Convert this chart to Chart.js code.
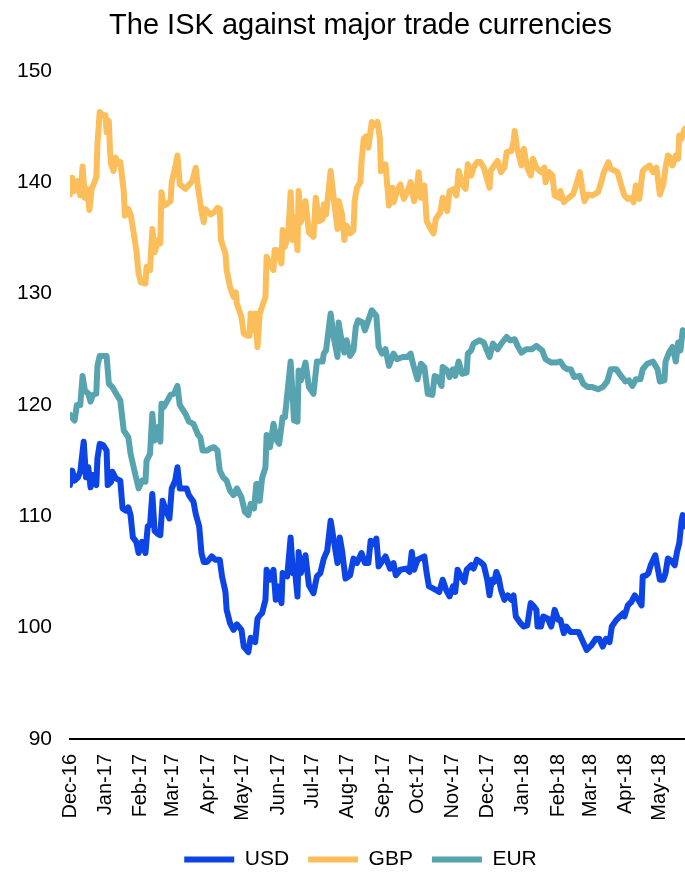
<!DOCTYPE html>
<html>
<head>
<meta charset="utf-8">
<title>The ISK against major trade currencies</title>
<script src="https://cdn.jsdelivr.net/npm/chart.js@4/dist/chart.umd.min.js"></script>
<style>
  html, body { margin: 0; padding: 0; background: #ffffff; }
  #wrap { width: 685px; height: 874px; }
</style>
</head>
<body>
<div id="wrap"><canvas id="chart" width="685" height="874"></canvas></div>
<script>
// Exchange rates: ISK per unit of foreign currency.
// x values are calendar days counted from 1 December 2016.
const startDate = Date.UTC(2016, 11, 1);

const monthLabels = ['Dec-16', 'Jan-17', 'Feb-17', 'Mar-17', 'Apr-17', 'May-17', 'Jun-17',
  'Jul-17', 'Aug-17', 'Sep-17', 'Oct-17', 'Nov-17', 'Dec-17', 'Jan-18', 'Feb-18',
  'Mar-18', 'Apr-18', 'May-18'];

const yTicks = [90, 100, 110, 120, 130, 140, 150];

const usdDay = [0,2,4,7,9,12,14,16,18,20,23,24,26,29,32,33,36,37,40,44,
  46,49,51,53,55,58,60,63,66,68,70,72,74,77,79,81,84,87,89,92,
  94,96,99,102,104,108,110,113,115,117,120,124,127,131,133,136,137,140,143,146,
  150,152,156,158,162,164,166,168,171,172,175,178,180,182,185,186,190,193,195,197,
  199,200,202,206,209,213,216,219,222,225,228,231,234,236,238,241,245,248,251,255,
  258,261,263,266,268,270,276,280,283,285,289,294,297,299,301,304,310,312,314,318,
  323,326,329,332,335,337,339,342,345,347,351,353,356,359,362,365,367,369,371,373,
  375,377,380,383,386,388,390,394,397,400,403,405,408,409,412,414,418,421,424,427,
  429,432,434,438,443,445,448,452,456,460,463,466,469,472,474,478,481,484,485,488,
  491,494,497,500,501,504,506,508,512,516,519,521,523,526,529,531,533,535,536,538];
const usdRate = [112.8,114.1,113.2,113.5,114.0,116.7,113.5,114.4,112.6,113.7,
  112.8,115.2,116.5,116.4,115.9,112.8,113.1,114.0,113.4,113.2,
  110.7,110.5,110.8,110.1,108.1,107.7,106.7,107.7,106.7,109.1,
  109.2,112.0,108.7,108.4,108.3,111.4,110.5,109.8,112.5,113.2,
  114.4,112.5,112.5,112.5,111.9,111.3,110.2,109.1,106.7,105.9,
  105.9,106.4,106.1,106.1,104.6,103.2,101.6,100.4,99.8,100.3,
  99.8,98.3,97.8,99.1,98.7,100.8,101.1,101.3,102.5,105.2,
  104.3,105.2,102.5,103.7,102.2,104.9,104.6,108.1,104.9,104.9,
  102.8,106.8,104.9,106.5,103.8,103.1,104.6,104.9,106.2,106.9,
  109.6,107.7,105.8,108.1,106.9,104.4,104.7,106.2,105.8,106.7,
  105.8,105.8,107.8,107.5,108.0,105.5,106.4,105.3,105.8,104.7,
  105.2,105.3,105.0,106.8,105.2,106.1,106.4,104.9,103.7,103.5,
  103.2,104.3,103.4,102.8,103.7,103.2,105.2,104.6,104.1,105.2,
  105.6,105.3,106.1,105.9,105.6,104.3,102.9,104.3,104.1,105.0,
  104.5,103.4,102.5,102.9,102.5,102.9,101.0,100.4,100.1,100.2,
  102.2,102.0,101.6,100.1,100.1,101.0,100.8,100.1,101.6,100.7,
  100.7,99.5,100.1,99.6,99.6,99.6,98.9,98.0,98.4,99.0,
  99.0,98.3,99.0,98.7,100.1,100.7,101.0,101.3,101.0,102.0,
  102.3,102.9,102.5,102.0,104.6,104.7,104.9,105.6,106.5,104.3,
  104.3,104.9,106.2,106.0,105.6,106.8,107.6,109.6,110.1,109.1];

const gbpDay = [0,2,4,7,9,11,13,15,17,19,23,24,26,29,31,32,34,35,36,38,
  40,42,44,47,48,51,53,55,58,60,62,66,67,70,72,74,77,79,80,82,
  84,88,89,92,94,96,101,107,110,112,115,117,118,123,126,129,131,132,136,137,
  140,143,145,146,150,152,155,157,158,161,162,164,166,168,171,172,175,178,179,181,
  185,186,188,191,193,195,197,199,200,202,206,209,213,215,218,221,222,224,228,231,
  234,235,238,240,242,245,248,249,251,254,255,257,259,261,264,266,269,271,272,276,
  279,282,283,287,289,292,295,298,301,303,305,307,310,312,315,318,320,324,326,330,
  332,336,338,340,343,346,348,351,353,356,359,362,367,368,371,374,377,380,382,386,
  388,389,391,395,397,400,403,405,408,412,415,416,419,422,424,428,429,432,435,440,
  443,446,448,450,453,457,462,465,467,471,473,479,482,485,488,491,493,495,498,501,
  504,507,510,513,516,519,521,523,526,527,530,532,533,535,537,538];
const gbpRate = [138.9,140.4,139.2,140.1,138.8,141.4,138.6,139.4,137.5,139.4,
  140.4,143.4,146.3,146.0,146.0,144.5,145.5,142.8,141.6,141.0,
  142.2,141.6,141.8,139.2,137.0,137.6,137.1,135.9,133.9,131.8,
  131.0,130.9,132.4,132.1,135.8,133.7,134.8,134.5,139.1,137.9,
  138.0,138.3,140.0,141.3,142.4,139.8,139.4,140.1,141.3,139.5,
  137.4,136.4,137.6,137.1,137.3,137.7,137.6,134.8,133.6,132.1,
  130.6,129.7,130.1,129.1,127.9,126.4,126.2,126.2,128.2,126.7,
  128.2,125.2,128.2,128.8,129.7,133.3,132.7,132.1,133.9,133.9,
  132.7,135.7,134.2,135.4,139.1,134.8,136.8,133.9,139.2,136.4,
  138.3,135.5,135.1,138.6,136.5,136.7,138.0,137.1,141.0,138.3,
  135.8,138.3,137.1,134.8,136.1,135.4,135.7,138.3,139.5,140.0,
  141.8,143.9,144.1,143.1,145.4,145.1,145.4,144.0,141.0,141.6,
  137.9,139.5,138.2,139.4,139.8,138.5,139.1,140.0,138.3,139.1,
  140.9,138.6,139.7,136.5,135.9,135.4,136.7,137.3,138.6,137.4,
  139.2,139.4,138.8,141.0,139.8,139.4,141.6,140.6,141.3,141.8,
  141.8,141.3,139.5,141.0,141.5,141.9,140.9,141.3,142.7,142.8,
  143.6,144.6,143.1,141.5,143.0,141.3,140.6,142.1,141.3,140.9,
  141.3,140.0,140.9,140.6,138.8,138.6,139.2,138.2,138.5,138.9,
  139.8,140.9,139.5,138.3,138.9,138.8,139.1,140.1,140.9,141.8,
  141.2,140.9,139.8,138.8,138.5,138.6,138.2,139.7,138.5,141.0,
  141.3,141.5,140.9,141.3,138.9,139.8,141.3,142.4,142.1,141.5,
  142.4,142.1,144.2,143.9,144.6,144.8];

const eurDay = [0,4,6,9,11,13,16,18,20,23,24,26,32,34,37,41,44,47,51,53,
  57,60,63,66,67,70,72,74,77,79,80,82,88,91,94,96,101,104,108,112,
  114,116,120,123,126,129,131,134,137,140,143,146,150,153,156,158,161,163,165,166,
  168,171,172,175,178,181,183,186,188,193,196,199,200,202,206,209,213,216,221,222,
  224,228,231,234,235,238,240,242,245,248,250,252,256,258,261,264,268,270,273,276,
  279,283,286,291,295,298,300,304,307,310,313,317,319,321,325,326,330,332,335,337,
  340,343,347,348,351,353,358,362,367,370,374,378,382,385,389,392,395,399,404,408,
  413,416,421,425,429,432,435,438,441,446,449,453,457,462,466,470,473,478,482,486,
  489,492,495,499,501,505,510,514,516,520,521,524,527,530,532,534,536,538];
const eurRate = [119.1,118.6,120.0,120.0,122.6,121.3,121.0,120.3,120.9,121.0,
  123.5,124.4,124.4,121.9,121.6,120.9,120.4,117.7,117.1,115.6,
  113.8,112.5,113.2,113.1,115.0,115.6,119.2,116.8,118.0,116.7,
  120.1,119.8,120.9,121.0,121.7,120.0,119.2,118.5,118.3,117.3,
  117.1,115.9,115.9,116.1,116.2,115.9,114.1,113.5,113.2,112.3,
  111.9,112.5,111.7,110.4,110.1,111.1,110.7,112.9,112.9,111.4,
  113.4,114.4,117.3,116.2,118.3,116.8,116.5,118.9,118.9,123.9,
  118.6,118.5,123.1,122.2,123.8,121.6,121.0,123.9,123.9,124.6,
  124.9,128.2,125.9,124.3,127.4,125.5,124.7,125.8,124.4,124.9,
  127.0,127.6,127.4,126.7,127.6,128.5,128.0,125.2,124.6,125.0,
  123.5,124.6,124.1,124.3,124.3,124.6,123.7,122.3,123.7,123.4,
  121.0,120.9,122.6,122.5,121.7,123.4,123.1,122.5,123.2,122.6,
  123.9,122.8,122.9,124.6,124.9,125.5,125.8,125.6,124.3,125.5,
  125.0,125.6,126.1,125.8,125.9,125.2,124.7,125.0,125.0,125.3,
  124.9,124.1,123.8,123.8,123.9,123.4,123.2,123.2,122.5,122.6,
  121.9,121.6,121.6,121.4,121.6,122.1,123.2,123.2,122.6,122.1,
  122.2,121.7,122.3,122.3,123.2,123.7,123.9,123.2,122.1,122.2,
  123.9,124.7,125.2,123.9,125.6,124.9,126.7,126.5];

// Day offset of the first of each labelled month.
const monthStartDays = monthLabels.map((_, i) =>
  Math.round((Date.UTC(2016, 11 + i, 1) - startDate) / 86400000));

const toPoints = (days, rates) => days.map((d, i) => ({ x: d, y: rates[i] }));

const FONT = '"Liberation Sans", Arial, Helvetica, sans-serif';

const lineStyle = {
  borderWidth: 6,
  pointRadius: 0,
  pointHoverRadius: 0,
  tension: 0,
  fill: false,
  borderJoinStyle: 'round',
  borderCapStyle: 'round'
};

// The value axis sits inside the left layout padding; let its labels use that room.
const yLabelRoom = {
  id: 'yLabelRoom',
  afterLayout(chart) { chart.scales.y.left = 0; }
};

new Chart(document.getElementById('chart'), {
  type: 'line',
  plugins: [yLabelRoom],
  data: {
    datasets: [
      Object.assign({ label: 'USD', data: toPoints(usdDay, usdRate),
        borderColor: '#0C44E6', backgroundColor: '#0C44E6' }, lineStyle),
      Object.assign({ label: 'GBP', data: toPoints(gbpDay, gbpRate),
        borderColor: '#FBBE5A', backgroundColor: '#FBBE5A' }, lineStyle),
      Object.assign({ label: 'EUR', data: toPoints(eurDay, eurRate),
        borderColor: '#57A4B0', backgroundColor: '#57A4B0' }, lineStyle)
    ]
  },
  options: {
    responsive: false,
    animation: false,
    devicePixelRatio: 1,
    layout: { padding: { left: 36, right: 0, top: 0, bottom: -6 } },
    plugins: {
      title: {
        display: true,
        text: 'The ISK against major trade currencies',
        color: '#000000',
        font: { family: FONT, size: 29, weight: 'normal' },
        padding: { top: 9, bottom: 27 }
      },
      legend: {
        display: true,
        position: 'bottom',
        labels: {
          usePointStyle: true,
          pointStyle: 'line',
          pointStyleWidth: 50,
          padding: 19,
          color: '#000000',
          font: { family: FONT, size: 21 }
        }
      },
      tooltip: { enabled: false }
    },
    scales: {
      x: {
        type: 'linear',
        min: 0,
        max: usdDay[usdDay.length - 1],
        grid: { display: false, drawTicks: false },
        border: { display: true, color: '#000000', width: 2 },
        afterBuildTicks: (scale) => {
          scale.ticks = monthStartDays.map(v => ({ value: v }));
        },
        afterFit: (scale) => {
          scale.height = 91;
          scale.paddingLeft = 0;
          scale.paddingRight = 0;
        },
        ticks: {
          autoSkip: false,
          maxRotation: 90,
          minRotation: 90,
          padding: 15,
          color: '#000000',
          font: { family: FONT, size: 20 },
          callback: (value) => {
            const i = monthStartDays.indexOf(value);
            return i >= 0 ? monthLabels[i] : '';
          }
        }
      },
      y: {
        min: 90,
        max: 150,
        grid: { display: false, drawTicks: false },
        border: { display: false },
        afterBuildTicks: (scale) => {
          scale.ticks = yTicks.map(v => ({ value: v }));
        },
        afterFit: (scale) => { scale.width = 34; },
        ticks: {
          padding: 18,
          color: '#000000',
          font: { family: FONT, size: 21 }
        }
      }
    }
  }
});
</script>
</body>
</html>
